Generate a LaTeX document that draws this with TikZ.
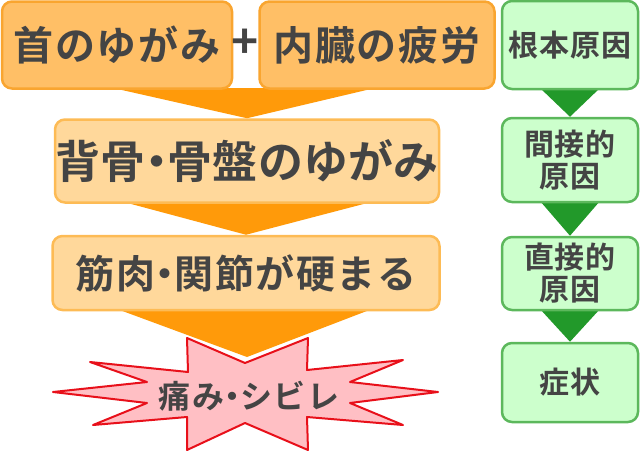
\documentclass[tikz,border=0pt]{standalone}
\usepackage{fontspec}
\usepackage{xcolor}
\setmainfont{Noto Sans CJK JP}[BoldFont={* Bold}]
\usetikzlibrary{backgrounds}
\definecolor{txtgray}{HTML}{444444}
\definecolor{orfill}{HTML}{FFBF66}
\definecolor{ordraw}{HTML}{F9A530}
\definecolor{orlight}{HTML}{FFD89B}
\definecolor{orlightdraw}{HTML}{FDBB55}
\definecolor{orarrow}{HTML}{FF9A0A}
\definecolor{grfill}{HTML}{CCFFCC}
\definecolor{grdraw}{HTML}{5CB85C}
\definecolor{grarrow}{HTML}{22992A}
\definecolor{pinkfill}{HTML}{FFBFC4}
\definecolor{reddraw}{HTML}{E8101A}
\newcommand\nakaten{\hspace{-0.25em}・\hspace{-0.25em}}
\newcommand\jpfont[2]{\fontsize{#1}{#1}\selectfont\bfseries\addfontfeature{LetterSpace=#2}}

\tikzset{
  topbox/.style={draw=ordraw,fill=orfill,line width=2.5pt,rounded corners=10pt,
    minimum width=230pt,minimum height=87pt,inner sep=0pt,
    font=\jpfont{40}{4},text=txtgray},
  midbox/.style={draw=orlightdraw,fill=orlight,line width=2.5pt,rounded corners=10pt,
    inner sep=0pt,text=txtgray},
  causebox/.style={draw=grdraw,fill=grfill,line width=2.5pt,rounded corners=10pt,
    minimum width=136pt,inner sep=0pt,align=center,
    font=\fontsize{30}{32}\selectfont\bfseries\addfontfeature{LetterSpace=3},text=txtgray},
}

\begin{document}
\begin{tikzpicture}[x=1pt,y=-1pt]
  \useasboundingbox (0,0) rectangle (640,450);
  % left column
  \node[topbox] (neck) at (117,45) {首のゆがみ};
  \node[topbox,minimum width=235pt] (organ) at (377,45) {内臓の疲労};
  \node[text=txtgray,font=\fontsize{46}{46}\selectfont\bfseries] (plus) at (245,44) {+};
  \node[midbox,minimum width=384pt,minimum height=83pt,
    font=\jpfont{45}{0.5}] (spine) at (247,161) {背骨\nakaten 骨盤のゆがみ};
  \node[midbox,minimum width=387pt,minimum height=74pt,
    font=\jpfont{39}{4}] (muscle) at (246,273) {筋肉\nakaten 関節が硬まる};
  \node[text=txtgray,font=\jpfont{32}{5}] (pain) at (249,396) {痛み\nakaten シビレ};
  % right column
  \node[causebox,minimum height=88pt] (root) at (570,45) {根本原因};
  \node[causebox,minimum height=84pt] (indirect) at (570,160) {間接的\\原因};
  \node[causebox,minimum height=73pt] (direct) at (570,273.5) {直接的\\原因};
  \node[causebox,minimum height=79pt] (symptom) at (570,382.5) {症状};
  % burst and arrows
  \begin{scope}[on background layer]
    \draw[fill=pinkfill,draw=reddraw,line width=2pt,line join=round]
      (53,392) -- (147,382) -- (90,362) -- (188,372) -- (187,338) -- (245,363)
      -- (308,338) -- (307,370) -- (403,360) -- (350,382) -- (438,392)
      -- (350,403) -- (403,425) -- (307,417) -- (308,450) -- (245,423)
      -- (187,450) -- (187,417) -- (93,425) -- (147,403) -- cycle;
    \fill[orarrow] (113,88) -- (375,88) -- (spine.north) -- cycle;
    \fill[orarrow] (120,201) -- (375,201) -- (muscle.north) -- cycle;
    \fill[orarrow] (117,309) -- (372,309) -- (247,357) -- cycle;
    \fill[grarrow] (540,88) -- (600,88) -- (indirect.north) -- cycle;
    \fill[grarrow] (540,201) -- (600,201) -- (direct.north) -- cycle;
    \fill[grarrow] (540,309) -- (600,309) -- (symptom.north) -- cycle;
  \end{scope}
\end{tikzpicture}
\end{document}
